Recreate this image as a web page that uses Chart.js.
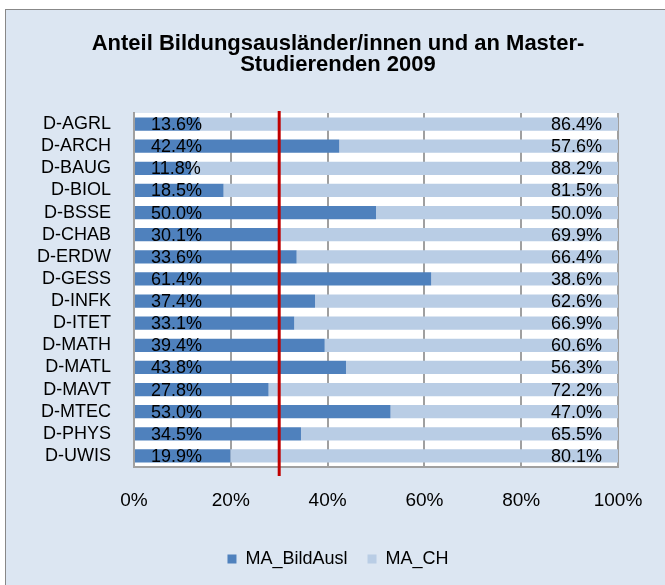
<!DOCTYPE html>
<html>
<head>
<meta charset="utf-8">
<script src="https://cdn.jsdelivr.net/npm/chart.js@4"></script>
<style>
  html, body { margin: 0; padding: 0; background: #fff; overflow: hidden; }
  #frame {
    position: absolute; left: 5px; top: 9px; width: 680px; height: 600px;
    background: #dce6f2; border: 1px solid #888;
  }
  #wrap { position: absolute; left: 0; top: 0; width: 676px; height: 585px; }
</style>
</head>
<body>
<div id="frame"></div>
<div id="wrap"><canvas id="myChart" width="676" height="585"></canvas></div>
<script>
const categories = ['D-AGRL', 'D-ARCH', 'D-BAUG', 'D-BIOL', 'D-BSSE', 'D-CHAB', 'D-ERDW', 'D-GESS',
    'D-INFK', 'D-ITET', 'D-MATH', 'D-MATL', 'D-MAVT', 'D-MTEC', 'D-PHYS', 'D-UWIS'];
const bildAusl = [13.6, 42.4, 11.8, 18.5, 50.0, 30.1, 33.6, 61.4, 37.4, 33.1, 39.4, 43.8, 27.8, 53.0, 34.5, 19.9];
const ch = [86.4, 57.6, 88.2, 81.5, 50.0, 69.9, 66.4, 38.6, 62.6, 66.9, 60.6, 56.3, 72.2, 47.0, 65.5, 80.1];
const xTicks = [0, 20, 40, 60, 80, 100];
const refLine = 30;

const font = '"Liberation Sans", Arial, sans-serif';

// white plot area on the blue frame
const plotBg = {
    id: 'plotBg',
    beforeDraw(chart) {
        const a = chart.chartArea, c = chart.ctx;
        c.save();
        c.fillStyle = '#ffffff';
        c.fillRect(a.left, a.top, a.right - a.left, a.bottom - a.top);
        c.restore();
    }
};

// percentage labels inside the bars
const barLabels = {
    id: 'barLabels',
    afterDatasetsDraw(chart) {
        const c = chart.ctx;
        c.save();
        c.font = '18px ' + font;
        c.fillStyle = '#000';
        c.textBaseline = 'middle';
        chart.data.datasets.forEach((ds, i) => {
            chart.getDatasetMeta(i).data.forEach((bar, j) => {
                const txt = ds.data[j].toFixed(1) + '%';
                if (i === 0) {
                    c.textAlign = 'left';
                    c.fillText(txt, bar.base + 16, bar.y + 1);
                } else {
                    c.textAlign = 'right';
                    c.fillText(txt, Math.min(bar.x, chart.chartArea.right) - 16, bar.y + 1);
                }
            });
        });
        c.restore();
    }
};

const redLine = {
    id: 'redLine',
    afterDatasetsDraw(chart) {
        const a = chart.chartArea, c = chart.ctx;
        const x = chart.scales.x.getPixelForValue(refLine);
        c.save();
        c.strokeStyle = '#c00000';
        c.lineWidth = 3;
        c.beginPath();
        c.moveTo(x, a.top - 2);
        c.lineTo(x, a.bottom + 9);
        c.stroke();
        c.restore();
    }
};

const ctx = document.getElementById('myChart').getContext('2d');
const chart = new Chart(ctx, {
    type: 'bar',
    data: {
        labels: categories,
        datasets: [{
            label: 'MA_BildAusl',
            data: bildAusl,
            backgroundColor: '#4f81bd',
            barPercentage: 0.6,
            categoryPercentage: 1
        }, {
            label: 'MA_CH',
            data: ch,
            backgroundColor: '#b9cde5',
            barPercentage: 0.6,
            categoryPercentage: 1
        }]
    },
    options: {
        indexAxis: 'y',
        responsive: false,
        animation: false,
        layout: { padding: { top: 10, left: 0, right: 0, bottom: 7 } },
        plugins: {
            title: {
                display: true,
                text: ['Anteil Bildungsausländer/innen und an Master-', 'Studierenden 2009'],
                color: '#000',
                font: { family: font, size: 22, weight: 'bold', lineHeight: '21px' },
                padding: { top: 23, bottom: 38 }
            },
            legend: {
                position: 'bottom',
                labels: {
                    color: '#000',
                    font: { family: font, size: 18 },
                    boxWidth: 9,
                    boxHeight: 9,
                    padding: 20
                }
            },
            tooltip: { enabled: false }
        },
        scales: {
            x: {
                stacked: true,
                min: 0,
                max: 100,
                afterBuildTicks(scale) {
                    scale.ticks = xTicks.map(v => ({ value: v }));
                },
                afterFit(scale) { scale.height = 63; },
                ticks: {
                    color: '#000',
                    font: { family: font, size: 19 },
                    padding: 22,
                    maxRotation: 0,
                    callback: v => v + '%'
                },
                grid: {
                    color: c => c.tick && c.tick.value === 0 ? 'rgba(0,0,0,0)' : '#a0a0a0',
                    lineWidth: 2,
                    drawTicks: false
                },
                border: { display: true, color: '#a0a0a0', width: 2 }
            },
            y: {
                stacked: true,
                afterFit(scale) { scale.width = 134; },
                ticks: {
                    color: '#000',
                    font: { family: font, size: 18 },
                    padding: 23,
                    autoSkip: false
                },
                grid: { display: false, drawTicks: false },
                border: { display: true, color: '#a0a0a0', width: 2 }
            },
            // empty right-hand margin so title and legend centre on the frame
            yRight: {
                type: 'category',
                position: 'right',
                afterFit(scale) { scale.width = 58; },
                ticks: { display: false },
                grid: { display: false, drawTicks: false },
                border: { display: false }
            }
        }
    },
    plugins: [plotBg, barLabels, redLine]
});
</script>
</body>
</html>
